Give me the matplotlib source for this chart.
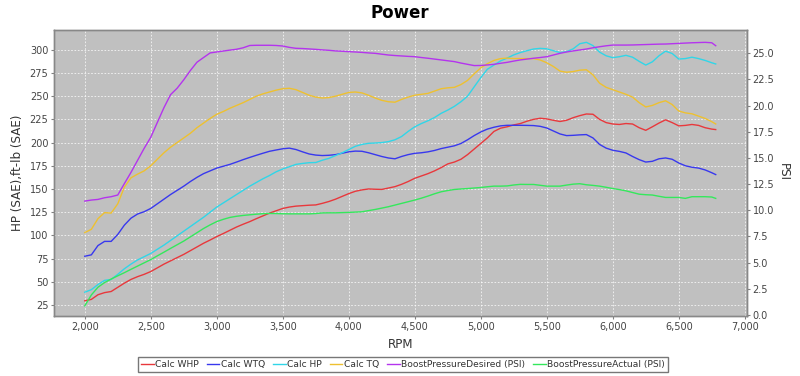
import matplotlib
matplotlib.use("Agg")
import matplotlib.pyplot as plt
from matplotlib.ticker import FuncFormatter, MultipleLocator

rpm = list(range(2000, 6800, 50)) + [6780]

calc_whp = [29.5, 31, 36, 38.3, 39.5, 44, 48.5, 52.5, 55.5, 58,
            61, 65, 69, 72.5, 76, 79.5, 83.5, 87.5, 91.5, 95,
            98.7, 102, 105.5, 109, 112, 114.8, 118, 121, 124, 126.5,
            129, 130.5, 131.5, 132, 132.5, 132.8, 134.5, 136.5, 139, 142,
            145, 147.5, 149, 150, 149.7, 149.5, 151, 152.5, 155, 158,
            161.5, 164, 166.5, 169.5, 173, 177, 179, 182, 187, 193,
            199, 205, 212, 215.5, 217, 219, 220.5, 223, 225, 226.2,
            225.5, 224, 222.7, 224, 226.8, 229, 230.8, 230.5, 225, 221.5,
            220, 219.5, 220.5, 220, 216, 213.2, 217, 221, 224.5, 221.5,
            218, 218.5, 219.5, 218.5, 216, 214.5, 214]

calc_wtq = [77.5, 79, 89, 93.5, 93.5, 101, 111, 118.5, 123, 125.5,
            129, 134, 139, 144, 148.5, 153, 158, 162.5, 166.5, 169.5,
            172.5, 174.5, 176.5, 179, 181.6, 184, 186.3, 188.5, 190.6, 192,
            193.3, 194, 192.5, 190, 187.7, 186.5, 186, 186.3, 187, 188.5,
            190, 190.8, 190.6, 189, 187, 185, 183.4, 182.5, 185, 187,
            188.4, 189, 190, 191.5, 193.5, 195, 196.5, 199, 203, 207.5,
            211.4, 214.5, 216.5, 218, 218.6, 218.6, 218.6, 218.5, 218.3, 217.5,
            215.7, 212.5, 209.3, 207.5, 207.8, 208.3, 208.6, 205, 198, 194,
            191.7, 190.5, 188.8, 185, 181.6, 179, 179.8, 182.5, 183.4, 182,
            178, 175, 173.4, 172.5, 170.5, 167.5, 165.5]

calc_hp = [38.7, 41.5, 47, 51.5, 52.5, 58, 64, 69, 73.5, 77,
           80.5, 85, 89.5, 94.5, 99.5, 104.5, 109.5, 114.5, 119.5, 125,
           130.5, 135, 139.5, 144, 148.5, 153, 157, 161, 164.5, 168.5,
           171.5, 174, 176.5, 177.5, 178.3, 178.5, 181, 183, 186, 189,
           192.5, 196, 198, 199.2, 199.5, 200, 201, 203, 206.5, 212,
           217, 220.5, 223.5, 227, 231.5, 235, 239, 244, 250, 260,
           270, 279, 283.5, 288, 291, 294.5, 297, 299, 300.8, 301.5,
           301, 299, 297, 298, 301, 306.5, 308, 304.5, 297.5, 293.5,
           291.5, 292.5, 294, 292, 287.5, 283.5, 287, 293.5, 298.5, 296,
           290, 290.5, 292, 290.5, 288.5, 286, 284.7]

calc_tq = [103, 106.5, 118, 124.5, 124, 134, 152, 162, 166, 169.5,
           175, 182, 189, 195, 200, 205, 210, 216, 221, 226,
           230.5, 233.5, 237, 240, 243, 246.5, 250, 252.5, 254.5, 256.5,
           258, 258.5, 257, 254, 251, 249, 248, 248.5, 250, 252,
           254, 254.5, 253.5, 251, 248, 245.5, 244, 243.5, 246.5, 249,
           251, 252, 253, 255.5, 258, 259, 259.5, 262.5, 267, 274,
           280.5, 285, 288.5, 290.5, 291, 290.5, 290.5, 290.5, 290.5, 289,
           286, 282, 277, 275.8, 276.5, 278, 278.5, 273, 264, 259.5,
           257, 254.5, 252, 249, 243, 238.4, 240, 243, 245, 241,
           234, 232, 231, 228.5, 226, 222.5, 220]

boost_desired = [10.88, 10.98, 11.04, 11.20, 11.30, 11.46, 12.55, 13.62, 14.77, 15.92,
                 16.98, 18.40, 19.81, 21.05, 21.67, 22.47, 23.36, 24.15, 24.60, 25.04,
                 25.13, 25.22, 25.31, 25.39, 25.53, 25.75, 25.77, 25.77, 25.77, 25.75,
                 25.70, 25.57, 25.48, 25.46, 25.42, 25.38, 25.33, 25.29, 25.23, 25.20,
                 25.16, 25.13, 25.09, 25.04, 25.00, 24.92, 24.84, 24.79, 24.75, 24.71,
                 24.68, 24.60, 24.53, 24.45, 24.37, 24.29, 24.21, 24.07, 23.95, 23.83,
                 23.84, 23.89, 23.95, 24.05, 24.14, 24.26, 24.37, 24.45, 24.53, 24.60,
                 24.68, 24.84, 25.00, 25.13, 25.23, 25.32, 25.41, 25.53, 25.63, 25.72,
                 25.79, 25.79, 25.79, 25.80, 25.82, 25.84, 25.86, 25.88, 25.89, 25.92,
                 25.95, 25.98, 26.01, 26.03, 26.05, 26.01, 25.73]

boost_actual = [0.87, 1.91, 2.65, 3.09, 3.43, 3.74, 4.04, 4.36, 4.67, 4.98,
                5.29, 5.65, 6.00, 6.36, 6.71, 7.06, 7.46, 7.86, 8.26, 8.61,
                8.92, 9.14, 9.32, 9.43, 9.51, 9.57, 9.63, 9.68, 9.70, 9.69,
                9.67, 9.66, 9.66, 9.66, 9.66, 9.69, 9.75, 9.76, 9.76, 9.78,
                9.80, 9.83, 9.86, 9.97, 10.08, 10.21, 10.34, 10.50, 10.66, 10.82,
                10.98, 11.16, 11.36, 11.58, 11.77, 11.89, 11.99, 12.04, 12.08, 12.13,
                12.18, 12.25, 12.31, 12.31, 12.33, 12.42, 12.48, 12.47, 12.47, 12.39,
                12.31, 12.31, 12.31, 12.41, 12.50, 12.54, 12.44, 12.38, 12.31, 12.20,
                12.08, 11.98, 11.86, 11.70, 11.54, 11.49, 11.46, 11.34, 11.23, 11.23,
                11.23, 11.14, 11.30, 11.30, 11.30, 11.27, 11.14]

labels = ["Calc WHP", "Calc WTQ", "Calc HP", "Calc TQ",
          "BoostPressureDesired (PSI)", "BoostPressureActual (PSI)"]
colors = ["#E8383C", "#3838EE", "#30D6E8", "#EEC030", "#B434EE", "#34E85C"]

fig = plt.figure(figsize=(8, 3.76), dpi=100)
fig.patch.set_facecolor("white")
ax = fig.add_axes([54 / 800, 1 - 316 / 376, 693 / 800, 286 / 376])
ax.set_facecolor("#C0C0C0")
ax2 = ax.twinx()

lw = 1.0
h = []
h += ax.plot(rpm, calc_whp, color=colors[0], lw=lw, label=labels[0])
h += ax.plot(rpm, calc_wtq, color=colors[1], lw=lw, label=labels[1])
h += ax.plot(rpm, calc_hp, color=colors[2], lw=lw, label=labels[2])
h += ax.plot(rpm, calc_tq, color=colors[3], lw=lw, label=labels[3])
h += ax2.plot(rpm, boost_desired, color=colors[4], lw=lw, label=labels[4])
h += ax2.plot(rpm, boost_actual, color=colors[5], lw=lw, label=labels[5])

ax.set_xlim(1767, 7017)
ax.set_ylim(13.1, 321.3)
ax2.set_ylim(-0.1, 27.23)

ax.xaxis.set_major_locator(MultipleLocator(500))
ax.yaxis.set_major_locator(MultipleLocator(25))
ax2.yaxis.set_major_locator(MultipleLocator(2.5))
ax.xaxis.set_major_formatter(FuncFormatter(lambda v, p: f"{v:,.0f}"))
ax.yaxis.set_major_formatter(FuncFormatter(lambda v, p: f"{v:.0f}"))
ax2.yaxis.set_major_formatter(FuncFormatter(lambda v, p: f"{v:.1f}"))

ax.grid(True, color="white", lw=0.6, ls=(0, (2, 2)), alpha=0.85)
ax.set_axisbelow(True)

tick_kw = dict(labelsize=7, colors="#808080", labelcolor="#444444", length=2, width=0.8, pad=2)
ax.tick_params(axis="both", **tick_kw)
ax2.tick_params(axis="y", **tick_kw)
for a in (ax, ax2):
    for s in a.spines.values():
        s.set_color("#888888")
        s.set_linewidth(1.0)

ax.set_xlabel("RPM", fontsize=8.6, color="#333333", labelpad=5)
fig.text(18 / 800, 1 - 173 / 376, "HP (SAE),ft-lb (SAE)", rotation=90,
         fontsize=8.6, color="#333333", ha="center", va="center")
fig.text(783 / 800, 1 - 172 / 376, "PSI", rotation=270,
         fontsize=8.6, color="#333333", ha="center", va="center")
fig.text(0.5, 1 - 13 / 376, "Power", fontsize=12, fontweight="bold",
         ha="center", va="center", color="black")

leg = fig.legend(h, labels, loc="center", bbox_to_anchor=(403 / 800, 1 - 364.5 / 376),
                 ncol=6, fontsize=6.6, frameon=True, fancybox=False,
                 handlelength=1.4, handletextpad=0.2, columnspacing=0.8,
                 borderpad=0.35, labelcolor="#333333")
leg.get_frame().set_edgecolor("#555555")
leg.get_frame().set_linewidth(1.0)

fig.savefig("out.png", dpi=100)
